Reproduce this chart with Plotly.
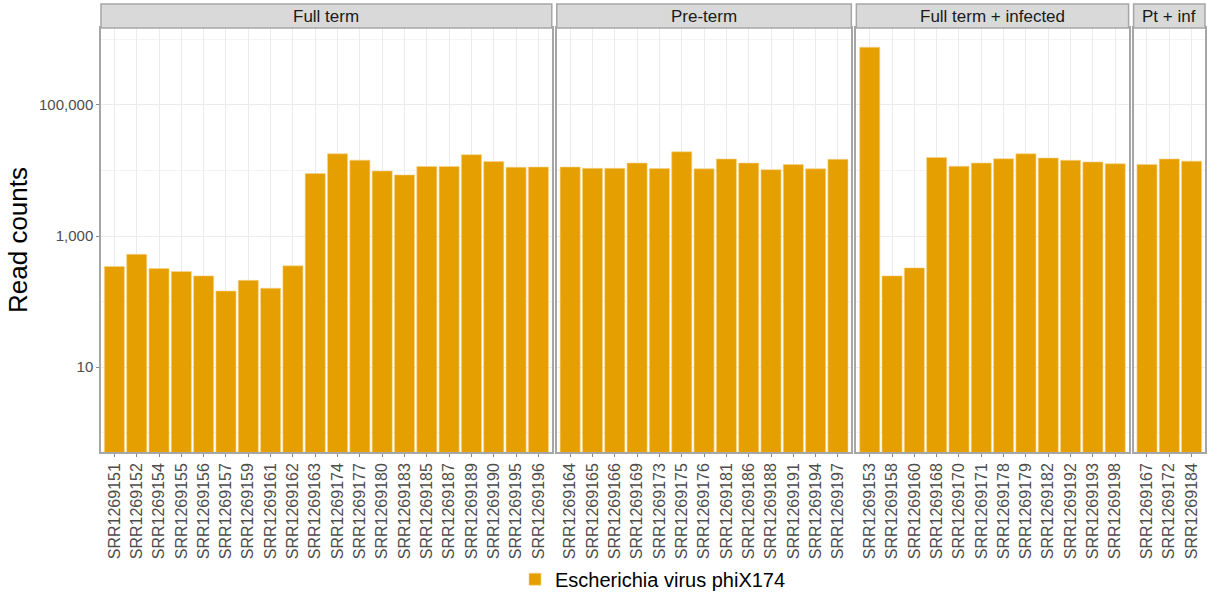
import plotly.graph_objects as go

# ---- data ----
panel_titles = ["Full term", "Pre-term", "Full term + infected", "Pt + inf"]

full_term_samples = ["SRR1269151", "SRR1269152", "SRR1269154", "SRR1269155", "SRR1269156",
                     "SRR1269157", "SRR1269159", "SRR1269161", "SRR1269162", "SRR1269163",
                     "SRR1269174", "SRR1269177", "SRR1269180", "SRR1269183", "SRR1269185",
                     "SRR1269187", "SRR1269189", "SRR1269190", "SRR1269195", "SRR1269196"]
full_term_counts = [343, 526, 319, 288, 247, 145, 211, 160, 351, 8990,
                    18000, 14400, 9840, 8570, 11500, 11500, 17400, 13700, 11200, 11300]

pre_term_samples = ["SRR1269164", "SRR1269165", "SRR1269166", "SRR1269169", "SRR1269173",
                    "SRR1269175", "SRR1269176", "SRR1269181", "SRR1269186", "SRR1269188",
                    "SRR1269191", "SRR1269194", "SRR1269197"]
pre_term_counts = [11300, 10800, 10800, 13000, 10700, 19300, 10600, 15000, 13000, 10300,
                   12300, 10600, 14800]

ft_inf_samples = ["SRR1269153", "SRR1269158", "SRR1269160", "SRR1269168", "SRR1269170",
                  "SRR1269171", "SRR1269178", "SRR1269179", "SRR1269182", "SRR1269192",
                  "SRR1269193", "SRR1269198"]
ft_inf_counts = [760000, 247, 327, 15800, 11600, 13000, 15100, 18000, 15500, 14300,
                 13500, 12700]

pt_inf_samples = ["SRR1269167", "SRR1269172", "SRR1269184"]
pt_inf_counts = [12400, 15000, 13900]

series_name = "Escherichia virus phiX174"
y_tick_vals = [10, 1000, 100000]
y_tick_text = ["10", "1,000", "100,000"]
y_minor_vals = [1, 100, 10000, 1000000]

# ---- layout constants ----
BAR_COLOR = "#E69F00"
BORDER = "#A6A6A6"
GRID = "#EBEBEB"
FONT = "Liberation Sans, Arial, sans-serif"

W, H = 1207, 601
ML, MR, MT, MB = 101, 2, 28, 147
plot_w = W - ML - MR
plot_h = H - MT - MB
strip_h = 24

panels = [
    (full_term_samples, full_term_counts),
    (pre_term_samples, pre_term_counts),
    (ft_inf_samples, ft_inf_counts),
    (pt_inf_samples, pt_inf_counts),
]
gap = 5
units = [len(s) + 0.2 for s, _ in panels]
avail = plot_w - gap * (len(panels) - 1)
unit_px = avail / sum(units)

fig = go.Figure()
domains = []
x0 = 0.0
for u in units:
    w = u * unit_px
    domains.append((x0 / plot_w, (x0 + w) / plot_w))
    x0 += w + gap

ylog_range = [-0.294, 6.174]

for i, ((samples, counts), dom) in enumerate(zip(panels, domains)):
    xa = "x" if i == 0 else f"x{i+1}"
    fig.add_trace(go.Bar(
        x=samples, y=counts, xaxis=xa, yaxis="y" if i == 0 else f"y{i+1}",
        marker=dict(color=BAR_COLOR, line=dict(color="#F5D48A", width=0.6)),
        width=0.9,
        name=series_name, showlegend=(i == 0),
    ))
    key = "xaxis" if i == 0 else f"xaxis{i+1}"
    ykey = "yaxis" if i == 0 else f"yaxis{i+1}"
    fig.layout[key] = dict(
        domain=list(dom), type="category", range=[-0.6, len(samples) - 0.4],
        tickangle=-90, showgrid=True, gridcolor=GRID, gridwidth=1,
        ticks="outside", ticklen=3, tickcolor="#888888",
        tickfont=dict(family=FONT, size=16, color="#4D4D4D"),
        showline=True, linecolor=BORDER, linewidth=1.5, mirror=True,
        anchor="y" if i == 0 else f"y{i+1}", zeroline=False, fixedrange=True,
        automargin=False,
    )
    yd = dict(
        type="log", range=ylog_range, domain=[0, 1],
        tickmode="array", tickvals=y_tick_vals, ticktext=y_tick_text,
        showgrid=True, gridcolor=GRID, gridwidth=1,
        minor=dict(tickmode="array", tickvals=y_minor_vals, showgrid=True,
                   gridcolor="#F3F3F3", gridwidth=1, ticks=""),
        showline=True, linecolor=BORDER, linewidth=1.5, mirror=True,
        anchor=xa, zeroline=False, automargin=False, fixedrange=True,
    )
    if i == 0:
        yd.update(ticks="outside", ticklen=3, tickcolor="#888888",
                  tickfont=dict(family=FONT, size=15, color="#4D4D4D"),
                  title=dict(text="Read counts", font=dict(family=FONT, size=26, color="#000000"),
                             standoff=4))
    else:
        yd.update(showticklabels=False, ticks="", matches="y")
    fig.layout[ykey] = yd

    # strip
    fig.add_shape(type="rect", xref="paper", yref="paper",
                  x0=dom[0], x1=dom[1], y0=1.0, y1=1.0 + strip_h / plot_h,
                  fillcolor="#D9D9D9", line=dict(color=BORDER, width=1.5), layer="above")
    fig.add_annotation(xref="paper", yref="paper", x=(dom[0] + dom[1]) / 2,
                       y=1.0 + strip_h / 2 / plot_h, text=panel_titles[i], showarrow=False,
                       font=dict(family=FONT, size=17, color="#1A1A1A"),
                       xanchor="center", yanchor="middle")

fig.update_layout(
    width=W, height=H,
    margin=dict(l=ML, r=MR, t=MT, b=MB),
    paper_bgcolor="white", plot_bgcolor="white",
    bargap=0.1,
    showlegend=True,
    legend=dict(orientation="h", x=0.5, xanchor="center", y=-0.30, yanchor="middle",
                font=dict(family=FONT, size=20, color="#000000"),
                bgcolor="rgba(0,0,0,0)", itemwidth=30),
)

fig.write_html("out.html", config={"displayModeBar": False},
               post_script="document.body.style.margin='0';")
